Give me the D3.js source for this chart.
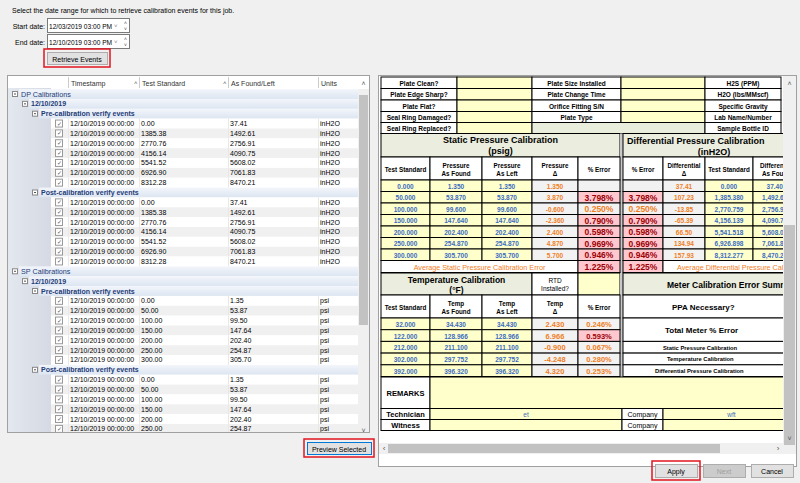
<!DOCTYPE html>
<html><head><meta charset="utf-8">
<script src="https://cdn.jsdelivr.net/npm/d3@7"></script>
<style>body{margin:0;background:#f0f0f0}svg{display:block;font-family:"Liberation Sans",Arial,sans-serif}</style>
</head><body><div id="chart"></div>
<script>
// tree data (left grid)
const dpStd = ["0.00","1385.38","2770.76","4156.14","5541.52","6926.90","8312.28"];
const dpFound = ["37.41","1492.61","2756.91","4090.75","5608.02","7061.83","8470.21"];
const spStd = ["0.00","50.00","100.00","150.00","200.00","250.00","300.00"];
const spFound = ["1.35","53.87","99.50","147.64","202.40","254.87","305.70"];
const stamp = "12/10/2019 00:00:00";

// static pressure table
const spTest = ["0.000","50.000","100.000","150.000","200.000","250.000","300.000"];
const spAsFound = ["1.350","53.870","99.600","147.640","202.400","254.870","305.700"];
const spAsLeft = ["1.350","53.870","99.600","147.640","202.400","254.870","305.700"];
const spDelta = ["1.350","3.870","-0.600","-2.360","2.400","4.870","5.700"];
const spErr = ["","3.798%","0.250%","0.790%","0.598%","0.969%","0.946%"];
const spErrFlag = [0,1,0,1,1,1,1];
const spAvg = "1.225%";

// differential pressure table
const dpDelta = ["37.41","107.23","-13.85","-65.39","66.50","134.94","157.93"];
const dpTest = ["0.000","1,385.380","2,770.759","4,156.139","5,541.518","6,926.898","8,312.277"];
const dpAsFound = ["37.407","1,492.610","2,756.910","4,090.750","5,608.020","7,061.830","8,470.210"];

// temperature table
const tTest = ["32.000","122.000","212.000","302.000","392.000"];
const tAsFound = ["34.430","128.966","211.100","297.752","396.320"];
const tAsLeft = ["34.430","128.966","211.100","297.752","396.320"];
const tDelta = ["2.430","6.966","-0.900","-4.248","4.320"];
const tErr = ["0.246%","0.593%","0.067%","0.280%","0.253%"];
const tErrFlag = [0,1,0,0,0];

const W = 800, H = 483;
const svg = d3.select("#chart").append("svg").attr("width", W).attr("height", H);
svg.append("rect").attr("width", W).attr("height", H).attr("fill", "#f0f0f0");
const defs = svg.append("defs");

function rect(g, x, y, w, h, fill, stroke, sw) {
  return g.append("rect").attr("x", x).attr("y", y).attr("width", w).attr("height", h)
    .attr("fill", fill || "none").attr("stroke", stroke || "none").attr("stroke-width", sw || 1);
}
function text(g, x, y, s, o) {
  o = o || {};
  return g.append("text").attr("x", x).attr("y", y).text(s)
    .attr("font-size", o.size || 7).attr("fill", o.color || "#000")
    .attr("font-weight", o.bold ? "bold" : "normal")
    .attr("text-anchor", o.anchor || "start").attr("dominant-baseline", "central");
}
function button(x, y, w, h, label, opts) {
  opts = opts || {};
  if (opts.red) rect(svg, x - 3, y - 3, w + 6, h + 6, "none", "#e0141e", 1.5);
  rect(svg, x + .5, y + .5, w, h, opts.disabled ? "#cccccc" : "#e1e1e1", opts.blue ? "#0078d7" : "#adadad");
  text(svg, x + w / 2, y + h / 2 + 1, label, {anchor: "middle", color: opts.disabled ? "#a0a0a0" : "#000"});
}

// ---- top controls
text(svg, 12, 10, "Select the date range for which to retrieve calibration events for this job.");
[["Start date:", "12/03/2019 03:00 PM", 26], ["End date:", "12/10/2019 03:00 PM", 42]].forEach(d => {
  text(svg, 45, d[2], d[0], {anchor: "end"});
  rect(svg, 47.5, d[2] - 7.5, 82, 14, "#fff", "#7a7a7a");
  text(svg, 49, d[2], d[1], {size: 6.6});
  text(svg, 114, d[2], "˅", {size: 6, color: "#777"});
  text(svg, 124, d[2] - 3, "˄", {size: 5, color: "#444"});
  text(svg, 124, d[2] + 3, "˅", {size: 5, color: "#444"});
});
button(47, 52, 60, 12, "Retrieve Events", {red: true});

// ---- left tree grid
const tree = svg.append("g");
rect(tree, 7.5, 75.5, 362, 357, "#fff", "#a0a0a0");
defs.append("clipPath").attr("id", "tclip").append("rect").attr("x", 8).attr("y", 88).attr("width", 350).attr("height", 344);
const gut = defs.append("linearGradient").attr("id", "gut");
gut.append("stop").attr("offset", "0").attr("stop-color", "#e4e8ef");
gut.append("stop").attr("offset", "1").attr("stop-color", "#d4d9e3");
const grp = defs.append("linearGradient").attr("id", "grp").attr("x2", 0).attr("y2", 1);
grp.append("stop").attr("offset", "0").attr("stop-color", "#f3f6fb");
grp.append("stop").attr("offset", "1").attr("stop-color", "#dce5f1");

// header
rect(tree, 8, 76, 350, 13, "#fff");
const cols = [68, 139, 228, 318];
[["Timestamp", 68], ["Test Standard", 139], ["As Found/Left", 228], ["Units", 318]].forEach(d => {
  text(tree, d[1] + 3, 83, d[0], {color: "#333"});
  tree.append("line").attr("x1", d[1] + .5).attr("x2", d[1] + .5).attr("y1", 77).attr("y2", 88).attr("stroke", "#ccc");
});
text(tree, 134, 83, "˄", {size: 6, color: "#555"});
text(tree, 223, 83, "˄", {size: 6, color: "#555"});

const rows = [];
function section(name, std, found, unit) {
  rows.push({kind: "group", level: 0, label: name});
  rows.push({kind: "date", level: 1, label: "12/10/2019"});
  ["Pre-calibration verify events", "Post-calibration verify events"].forEach(p => {
    rows.push({kind: "phase", level: 2, label: p});
    std.forEach((s, i) => rows.push({kind: "data", i: i, std: s, found: found[i], unit: unit}));
  });
}
section("DP Calibrations", dpStd, dpFound, "inH2O");
section("SP Calibrations", spStd, spFound, "psi");

const y = d3.scaleLinear().domain([0, 1]).range([94, 103.85]);
const body = tree.append("g").attr("clip-path", "url(#tclip)");
rect(body, 8, 88, 43, 345, "url(#gut)");
const rg = body.selectAll("g.row").data(rows).join("g").attr("class", "row")
  .attr("transform", (d, i) => `translate(0,${y(i)})`);
rg.each(function(d) {
  const g = d3.select(this);
  if (d.kind === "data") {
    rect(g, 51, -4.9, 307, 9.85, d.i % 2 ? "#f0f0f0" : "#fff");
    rect(g, 55.5, -3.5, 7, 7, "#fff", "#999");
    text(g, 59, 0, "✓", {size: 6, anchor: "middle", color: "#555"});
    cols.forEach(c => g.append("line").attr("x1", c + .5).attr("x2", c + .5).attr("y1", -4.9).attr("y2", 4.9).attr("stroke", "#e8e8e8"));
    text(g, 70, 0, stamp); text(g, 141, 0, d.std); text(g, 230, 0, d.found); text(g, 320, 0, d.unit);
  } else {
    const x0 = 9 + d.level * 10;
    rect(g, x0 + 10, -4.9, 358 - x0 - 10, 9.85, "url(#grp)");
    rect(g, x0 + 3.5, -2.5, 5, 5, "#fff", "#888");
    g.append("line").attr("x1", x0 + 5).attr("x2", x0 + 7).attr("stroke", "#555");
    text(g, x0 + 12, 0, d.label, {color: "#1e3c78", bold: d.kind !== "group", size: d.kind === "group" ? 7.2 : 7});
  }
});
// vertical scrollbar
rect(tree, 358, 89, 11, 343, "#f0f0f0");
rect(tree, 359, 95, 9, 230, "#c2c2c2");
text(tree, 363.5, 83, "˄", {size: 7, anchor: "middle", color: "#555"});
text(tree, 363.5, 430, "˅", {size: 7, anchor: "middle", color: "#555"});
button(307, 442, 64, 12, "Preview Selected", {red: true, blue: true});

// ---- right report panel
const rp = svg.append("g");
rect(rp, 378.5, 75.5, 418, 391, "#fff", "#a0a0a0");
defs.append("clipPath").attr("id", "rclip").append("rect").attr("x", 380).attr("y", 76).attr("width", 403).attr("height", 360);
const f = rp.append("g").attr("clip-path", "url(#rclip)");
const Y = "#ffffcc", G = "#f2f2f2", HG = "#ebeddf", PINK = "#ffc7ce";
const BLUE = "#3b6cc0", ORG = "#f07e1e", RED = "#9c0006";
// o.tx: explicit text x (start-anchored)
function cell(x0, y0, x1, y1, fill, label, o) {
  o = o || {};
  rect(f, x0, y0, x1 - x0, y1 - y0, fill || "#fff", "#000", 1);
  if (label !== undefined && label !== "") {
    const lines = String(label).split("\n");
    const lh = o.lh || 9;
    lines.forEach((l, k) => text(f, o.tx !== undefined ? o.tx : (x0 + x1) / 2,
      (y0 + y1) / 2 + (k - (lines.length - 1) / 2) * lh + 0.5, l,
      Object.assign({bold: true, size: 6.5}, o, {anchor: o.tx !== undefined ? "start" : "middle"})));
  }
}
// info block
const info = [["Plate Clean?", "Plate Size Installed", "H2S (PPM)"], ["Plate Edge Sharp?", "Plate Change Time", "H2O (lbs/MMscf)"],
  ["Plate Flat?", "Orifice Fitting S/N", "Specific Gravity"], ["Seal Ring Damaged?", "Plate Type", "Lab Name/Number"],
  ["Seal Ring Replaced?", null, "Sample Bottle ID"]];
const iy = [77, 88.5, 100, 111.5, 122.5, 133.5];
info.forEach((r, i) => {
  cell(381, iy[i], 457, iy[i + 1], "#fff", r[0]);
  cell(457, iy[i], 532, iy[i + 1], Y);
  if (r[1]) { cell(532, iy[i], 621, iy[i + 1], "#fff", r[1]); cell(621, iy[i], 705, iy[i + 1], Y); }
  else cell(532, iy[i], 705, iy[i + 1], "#e9eddc");
  cell(705, iy[i], 781, iy[i + 1], "#fff", r[2]);
});
// section headers
cell(381, 133.5, 620, 157, HG, "Static Pressure Calibration\n(psig)", {size: 9, lh: 11});
rect(f, 620, 133.5, 3, 140, "#c8c8c8");
cell(623, 133.5, 800, 157, HG, "", {});
text(f, 627, 140.5, "Differential Pressure Calibration", {size: 9, bold: true});
text(f, 714, 151.5, "(inH2O)", {size: 9, bold: true, anchor: "middle"});
const hx = [381, 430, 482, 532, 578, 620, 623, 663, 705, 753, 800];
const hdr = ["Test Standard", "Pressure\nAs Found", "Pressure\nAs Left", "Pressure\nΔ", "% Error", null, "% Error", "Differential\nΔ", "Test Standard", "Differential\nAs Found"];
hdr.forEach((h, i) => { if (h) cell(hx[i], 157, hx[i + 1], 180, "#fff", h, {size: 6.3, lh: 8}); });

const ry = d3.scaleLinear().domain([0, 7]).range([180, 260.5]);
spTest.forEach((v, i) => {
  const a = ry(i), b = ry(i + 1), pk = spErrFlag[i];
  cell(381, a, 430, b, Y, v, {color: BLUE});
  cell(430, a, 482, b, Y, spAsFound[i], {color: BLUE});
  cell(482, a, 532, b, Y, spAsLeft[i], {color: BLUE});
  cell(532, a, 578, b, G, spDelta[i], {color: ORG});
  cell(578, a, 620, b, pk ? PINK : G, spErr[i], {color: pk ? RED : ORG, size: 8.5});
  cell(623, a, 663, b, pk ? PINK : G, spErr[i], {color: pk ? RED : ORG, size: 8.5});
  cell(663, a, 705, b, G, dpDelta[i], {color: ORG});
  cell(705, a, 753, b, Y, dpTest[i], {color: BLUE});
  cell(753, a, 800, b, Y, dpAsFound[i], {color: BLUE});
});
cell(381, 260.5, 578, 272.5, "#fff", "Average Static Pressure Calibration Error", {color: ORG, size: 7.2, bold: false});
cell(578, 260.5, 620, 272.5, PINK, spAvg, {color: RED, size: 8.5});
cell(623, 260.5, 663, 272.5, PINK, spAvg, {color: RED, size: 8.5});
cell(663, 260.5, 800, 272.5, "#fff", "Average Differential Pressure Calibration Error", {color: ORG, size: 7.2, bold: false, tx: 677});

// temperature section
cell(381, 273, 532, 295, HG, "Temperature Calibration\n(°F)", {size: 8.5, lh: 10});
cell(532, 273, 578, 295, "#fff", "RTD\nInstalled?", {size: 6.5, bold: false, lh: 8});
cell(578, 273, 620, 295, Y);
rect(f, 620, 273, 3, 104, "#c8c8c8");
cell(623, 273, 800, 295, HG, "Meter Calibration Error Summary", {size: 8.5, tx: 667});
const thx = [381, 430, 482, 532, 578, 620];
["Test Standard", "Temp\nAs Found", "Temp\nAs Left", "Temp\nΔ", "% Error"].forEach((h, i) =>
  cell(thx[i], 295, thx[i + 1], 318, "#fff", h, {size: 6.3, lh: 8}));
const ty = d3.scaleLinear().domain([0, 5]).range([318, 376.5]);
tTest.forEach((v, i) => {
  const a = ty(i), b = ty(i + 1), pk = tErrFlag[i];
  cell(381, a, 430, b, Y, v, {color: BLUE});
  cell(430, a, 482, b, Y, tAsFound[i], {color: BLUE});
  cell(482, a, 532, b, Y, tAsLeft[i], {color: BLUE});
  cell(532, a, 578, b, G, tDelta[i], {color: ORG, size: 7.5});
  cell(578, a, 620, b, pk ? PINK : G, tErr[i], {color: pk ? RED : ORG, size: 7.5});
});
cell(623, 295, 800, 318, "#fff", "PPA Necessary?", {size: 8, tx: 672});
cell(623, 318, 800, ty(2), "#fff", "Total Meter % Error", {size: 8, tx: 665});
[["Static Pressure Calibration", 2, 663], ["Temperature Calibration", 3, 667], ["Differential Pressure Calibration", 4, 655]].forEach(d => {
  cell(623, ty(d[1]), 800, ty(d[1] + 1), "#fff", d[0], {size: 5.8, tx: d[2]});
});
// remarks & signatures
cell(381, 377, 430, 408.5, "#fff", "REMARKS", {size: 7.5});
cell(430, 377, 800, 408.5, Y);
cell(381, 408.5, 430, 419.5, "#fff", "Technician", {size: 7.5});
cell(430, 408.5, 622, 419.5, Y, "et", {color: BLUE, bold: false});
cell(622, 408.5, 663, 419.5, "#fff", "Company", {size: 7, bold: false});
cell(663, 408.5, 800, 419.5, Y, "wft", {color: BLUE, bold: false});
cell(381, 419.5, 430, 430.5, "#fff", "Witness", {size: 7.5});
cell(430, 419.5, 622, 430.5, Y);
cell(622, 419.5, 663, 430.5, "#fff", "Company", {size: 7, bold: false});
cell(663, 419.5, 800, 430.5, Y);

// report scrollbars
rect(rp, 783, 76, 13, 378, "#f0f0f0");
rect(rp, 784, 225, 11, 220, "#c2c2c2");
text(rp, 789.5, 83, "˄", {size: 7, anchor: "middle", color: "#555"});
text(rp, 789.5, 438, "˅", {size: 7, anchor: "middle", color: "#555"});
rect(rp, 379, 443, 404, 11, "#f0f0f0");
rect(rp, 388, 444, 332, 9, "#c2c2c2");
text(rp, 384, 448.5, "‹", {size: 8, anchor: "middle", color: "#555"});
text(rp, 778, 448.5, "›", {size: 8, anchor: "middle", color: "#555"});

button(655, 464, 42, 13, "Apply", {red: true});
button(703, 464, 42, 13, "Next", {disabled: true});
button(751, 464, 42, 13, "Cancel");
</script></body></html>
